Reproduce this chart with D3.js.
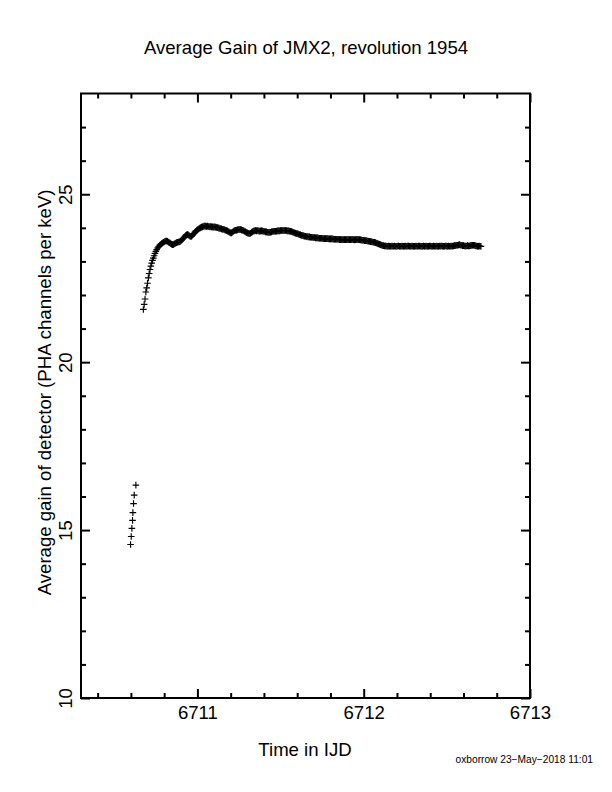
<!DOCTYPE html>
<html>
<head>
<meta charset="utf-8">
<script src="https://cdn.jsdelivr.net/npm/d3@7"></script>
<style>
  body { margin:0; background:#fff; }
  svg { font-family: "Liberation Sans", Arial, Helvetica, sans-serif; }
</style>
</head>
<body>
<div id="chart"></div>
<script>
// early points, before the gain settles
var startTime = [6710.598,6710.602,6710.606,6710.610,6710.612,6710.616,6710.620,6710.630];
var startGain = [14.57,14.81,15.05,15.29,15.52,15.79,16.04,16.34];

// main run (IJD, gain in PHA channels per keV)
var gainTime = [
 6710.675,6710.68,6710.685,6710.69,6710.695,6710.70,6710.705,6710.71,6710.715,6710.72,
 6710.725,6710.73,6710.735,6710.74,6710.745,6710.75,6710.755,6710.76,6710.765,6710.77,
 6710.775,6710.78,6710.785,6710.79,6710.795,6710.80,6710.805,6710.81,6710.815,6710.82,
 6710.825,6710.83,6710.835,6710.84,6710.845,6710.85,6710.855,6710.86,6710.865,6710.87,
 6710.875,6710.88,6710.885,6710.89,6710.895,6710.90,6710.905,6710.91,6710.915,6710.92,
 6710.925,6710.93,6710.935,6710.94,6710.945,6710.95,6710.955,6710.96,6710.965,6710.97,
 6710.975,6710.98,6710.985,6710.99,6710.995,6711.00,6711.005,6711.01,6711.015,6711.02,
 6711.025,6711.03,6711.035,6711.04,6711.045,6711.05,6711.055,6711.06,6711.065,6711.07,
 6711.075,6711.08,6711.085,6711.09,6711.095,6711.10,6711.105,6711.11,6711.115,6711.12,
 6711.125,6711.13,6711.135,6711.14,6711.145,6711.15,6711.155,6711.16,6711.165,6711.17,
 6711.175,6711.18,6711.185,6711.19,6711.195,6711.20,6711.205,6711.21,6711.215,6711.22,
 6711.225,6711.23,6711.235,6711.24,6711.245,6711.25,6711.255,6711.26,6711.265,6711.27,
 6711.275,6711.28,6711.285,6711.29,6711.295,6711.30,6711.305,6711.31,6711.315,6711.32,
 6711.325,6711.33,6711.335,6711.34,6711.345,6711.35,6711.355,6711.36,6711.365,6711.37,
 6711.375,6711.38,6711.385,6711.39,6711.395,6711.40,6711.405,6711.41,6711.415,6711.42,
 6711.425,6711.43,6711.435,6711.44,6711.445,6711.45,6711.455,6711.46,6711.465,6711.47,
 6711.475,6711.48,6711.485,6711.49,6711.495,6711.50,6711.505,6711.51,6711.515,6711.52,
 6711.525,6711.53,6711.535,6711.54,6711.545,6711.55,6711.555,6711.56,6711.565,6711.57,
 6711.575,6711.58,6711.585,6711.59,6711.595,6711.60,6711.605,6711.61,6711.615,6711.62,
 6711.625,6711.63,6711.635,6711.64,6711.645,6711.65,6711.655,6711.66,6711.665,6711.67,
 6711.675,6711.68,6711.685,6711.69,6711.695,6711.70,6711.705,6711.71,6711.715,6711.72,
 6711.725,6711.73,6711.735,6711.74,6711.745,6711.75,6711.755,6711.76,6711.765,6711.77,
 6711.775,6711.78,6711.785,6711.79,6711.795,6711.80,6711.805,6711.81,6711.815,6711.82,
 6711.825,6711.83,6711.835,6711.84,6711.845,6711.85,6711.855,6711.86,6711.865,6711.87,
 6711.875,6711.88,6711.885,6711.89,6711.895,6711.90,6711.905,6711.91,6711.915,6711.92,
 6711.925,6711.93,6711.935,6711.94,6711.945,6711.95,6711.955,6711.96,6711.965,6711.97,
 6711.975,6711.98,6711.985,6711.99,6711.995,6712.00,6712.005,6712.01,6712.015,6712.02,
 6712.025,6712.03,6712.035,6712.04,6712.045,6712.05,6712.055,6712.06,6712.065,6712.07,
 6712.075,6712.08,6712.085,6712.09,6712.095,6712.10,6712.105,6712.11,6712.115,6712.12,
 6712.125,6712.13,6712.135,6712.14,6712.145,6712.15,6712.155,6712.16,6712.165,6712.17,
 6712.175,6712.18,6712.185,6712.19,6712.195,6712.20,6712.205,6712.21,6712.215,6712.22,
 6712.225,6712.23,6712.235,6712.24,6712.245,6712.25,6712.255,6712.26,6712.265,6712.27,
 6712.275,6712.28,6712.285,6712.29,6712.295,6712.30,6712.305,6712.31,6712.315,6712.32,
 6712.325,6712.33,6712.335,6712.34,6712.345,6712.35,6712.355,6712.36,6712.365,6712.37,
 6712.375,6712.38,6712.385,6712.39,6712.395,6712.40,6712.405,6712.41,6712.415,6712.42,
 6712.425,6712.43,6712.435,6712.44,6712.445,6712.45,6712.455,6712.46,6712.465,6712.47,
 6712.475,6712.48,6712.485,6712.49,6712.495,6712.50,6712.505,6712.51,6712.515,6712.52,
 6712.525,6712.53,6712.535,6712.54,6712.545,6712.55,6712.555,6712.56,6712.565,6712.57,
 6712.575,6712.58,6712.585,6712.59,6712.595,6712.60,6712.605,6712.61,6712.615,6712.62,
 6712.625,6712.63,6712.635,6712.64,6712.645,6712.65,6712.655,6712.66,6712.665,6712.67,
 6712.675,6712.68,6712.685,6712.69,6712.695,6712.70,6712.705
];
var gainValue = [
 21.57,21.72,21.88,22.09,22.21,22.35,22.51,22.64,22.76,22.86,
 22.95,23.03,23.10,23.17,23.24,23.30,23.35,23.40,23.43,23.46,
 23.49,23.51,23.53,23.55,23.57,23.58,23.60,23.61,23.61,23.60,
 23.58,23.56,23.55,23.53,23.51,23.50,23.50,23.52,23.53,23.55,
 23.56,23.57,23.58,23.58,23.59,23.61,23.63,23.66,23.69,23.72,
 23.75,23.78,23.79,23.80,23.79,23.77,23.75,23.74,23.75,23.78,
 23.81,23.84,23.87,23.90,23.92,23.94,23.96,23.98,23.99,24.01,
 24.02,24.03,24.04,24.05,24.05,24.05,24.04,24.05,24.04,24.04,
 24.03,24.04,24.03,24.03,24.02,24.03,24.02,24.02,24.01,24.01,
 24.00,23.99,23.98,23.98,23.97,23.96,23.96,23.95,23.94,23.93,
 23.92,23.91,23.89,23.88,23.86,23.85,23.85,23.87,23.89,23.91,
 23.92,23.93,23.93,23.94,23.95,23.95,23.95,23.95,23.94,23.93,
 23.92,23.91,23.89,23.88,23.86,23.85,23.84,23.83,23.83,23.84,
 23.86,23.88,23.90,23.91,23.91,23.92,23.91,23.92,23.91,23.91,
 23.90,23.91,23.91,23.91,23.90,23.90,23.89,23.88,23.88,23.87,
 23.87,23.86,23.87,23.87,23.88,23.89,23.89,23.90,23.90,23.90,
 23.90,23.91,23.91,23.91,23.91,23.92,23.92,23.92,23.92,23.92,
 23.92,23.92,23.92,23.91,23.91,23.91,23.90,23.90,23.89,23.88,
 23.87,23.86,23.85,23.84,23.83,23.83,23.82,23.81,23.80,23.79,
 23.78,23.77,23.77,23.76,23.75,23.75,23.74,23.74,23.73,23.73,
 23.73,23.72,23.72,23.72,23.71,23.71,23.71,23.70,23.70,23.70,
 23.70,23.69,23.69,23.69,23.69,23.69,23.68,23.68,23.68,23.68,
 23.68,23.68,23.68,23.67,23.67,23.67,23.67,23.67,23.67,23.66,
 23.66,23.66,23.66,23.66,23.66,23.66,23.65,23.65,23.65,23.65,
 23.65,23.65,23.65,23.65,23.65,23.65,23.65,23.65,23.65,23.65,
 23.65,23.66,23.65,23.65,23.64,23.65,23.65,23.66,23.65,23.65,
 23.65,23.64,23.64,23.63,23.63,23.63,23.62,23.62,23.62,23.61,
 23.61,23.60,23.60,23.59,23.59,23.58,23.58,23.57,23.57,23.56,
 23.55,23.54,23.53,23.52,23.51,23.50,23.49,23.48,23.47,23.47,
 23.46,23.46,23.46,23.45,23.45,23.46,23.45,23.45,23.45,23.46,
 23.45,23.45,23.46,23.45,23.45,23.45,23.46,23.46,23.45,23.45,
 23.45,23.46,23.45,23.45,23.45,23.46,23.45,23.45,23.46,23.46,
 23.45,23.45,23.45,23.46,23.45,23.45,23.45,23.45,23.46,23.45,
 23.45,23.46,23.46,23.45,23.45,23.45,23.45,23.46,23.45,23.45,
 23.46,23.45,23.45,23.45,23.46,23.46,23.45,23.45,23.45,23.46,
 23.45,23.45,23.46,23.45,23.45,23.45,23.46,23.45,23.46,23.46,
 23.45,23.45,23.45,23.46,23.46,23.45,23.45,23.46,23.45,23.45,
 23.46,23.45,23.46,23.46,23.47,23.47,23.48,23.48,23.48,23.49,
 23.50,23.49,23.48,23.48,23.47,23.47,23.46,23.46,23.46,23.46,
 23.47,23.46,23.46,23.47,23.47,23.48,23.48,23.48,23.48,23.47,
 23.46,23.46,23.45,23.45,23.46,23.45,23.45
];

var xMajor = [6711, 6712, 6713];
var xMinor = [6710.4,6710.6,6710.8,6711.2,6711.4,6711.6,6711.8,6712.2,6712.4,6712.6,6712.8];
var yMajor = [10, 15, 20, 25];
var yMinor = [11,12,13,14,16,17,18,19,21,22,23,24,26,27];

var width = 612, height = 792;
var margin = {top:93.5, right:82, bottom:94, left:81};
var fontSize = "18.6px";

var svg = d3.select("#chart").append("svg")
    .attr("width", width)
    .attr("height", height);

var x = d3.scaleLinear()
    .domain([6710.3, 6713])
    .range([margin.left, width - margin.right]);

var y = d3.scaleLinear()
    .domain([10, 28])
    .range([height - margin.bottom, margin.top]);

var x0 = x.range()[0], x1 = x.range()[1];
var y0 = y.range()[0], y1 = y.range()[1];

function tidy(g){
    g.select(".domain").remove();
    g.selectAll(".tick line").attr("stroke","#000").attr("stroke-width",2);
}

// bottom
svg.append("g").attr("transform","translate(0,"+y0+")")
    .call(d3.axisBottom(x).tickValues(xMinor).tickSizeInner(-5).tickSizeOuter(0).tickFormat(""))
    .call(tidy);
svg.append("g").attr("transform","translate(0,"+y0+")")
    .call(d3.axisBottom(x).tickValues(xMajor).tickSizeInner(-9).tickSizeOuter(0).tickPadding(8).tickFormat(d3.format("d")))
    .call(tidy)
    .selectAll("text")
    .style("font-size",fontSize)
    .attr("fill","#000");

// top
svg.append("g").attr("transform","translate(0,"+y1+")")
    .call(d3.axisTop(x).tickValues(xMinor).tickSizeInner(-5).tickSizeOuter(0).tickFormat(""))
    .call(tidy);
svg.append("g").attr("transform","translate(0,"+y1+")")
    .call(d3.axisTop(x).tickValues(xMajor).tickSizeInner(-9).tickSizeOuter(0).tickFormat(""))
    .call(tidy);

// left
svg.append("g").attr("transform","translate("+x0+",0)")
    .call(d3.axisLeft(y).tickValues(yMinor).tickSizeInner(-5).tickSizeOuter(0).tickFormat(""))
    .call(tidy);
svg.append("g").attr("transform","translate("+x0+",0)")
    .call(d3.axisLeft(y).tickValues(yMajor).tickSizeInner(-9).tickSizeOuter(0).tickFormat(d3.format("d")))
    .call(tidy)
    .selectAll("text")
    .attr("transform","rotate(-90)")
    .attr("x",0)
    .attr("y",-9)
    .attr("dy",0)
    .attr("text-anchor","middle")
    .style("font-size",fontSize)
    .attr("fill","#000");

// right
svg.append("g").attr("transform","translate("+x1+",0)")
    .call(d3.axisRight(y).tickValues(yMinor).tickSizeInner(-5).tickSizeOuter(0).tickFormat(""))
    .call(tidy);
svg.append("g").attr("transform","translate("+x1+",0)")
    .call(d3.axisRight(y).tickValues(yMajor).tickSizeInner(-9).tickSizeOuter(0).tickFormat(""))
    .call(tidy);

// frame
svg.append("rect")
    .attr("x",x0).attr("y",y1)
    .attr("width",x1-x0).attr("height",y0-y1)
    .attr("fill","none").attr("stroke","#000").attr("stroke-width",2);

// points as "+" markers
var pts = startTime.map(function(t,i){ return [t,startGain[i]]; })
    .concat(gainTime.map(function(t,i){ return [t,gainValue[i]]; }));

var s = 3.3;
svg.append("g").selectAll("path").data(pts).enter().append("path")
    .attr("d",function(d){
        var px = x(d[0]), py = y(d[1]);
        return "M"+(px-s)+","+py+"H"+(px+s)+"M"+px+","+(py-s)+"V"+(py+s);
    })
    .attr("stroke","#000")
    .attr("stroke-width",1.15)
    .attr("fill","none");

// texts
svg.append("text")
    .attr("x",306).attr("y",54)
    .attr("text-anchor","middle")
    .style("font-size",fontSize)
    .text("Average Gain of JMX2, revolution 1954");

svg.append("text")
    .attr("x",305).attr("y",756)
    .attr("text-anchor","middle")
    .style("font-size",fontSize)
    .text("Time in IJD");

svg.append("text")
    .attr("transform","translate(51,"+y(19.1)+") rotate(-90)")
    .attr("text-anchor","middle")
    .style("font-size",fontSize)
    .text("Average gain of detector (PHA channels per keV)");

svg.append("text")
    .attr("x",593).attr("y",763)
    .attr("text-anchor","end")
    .style("font-size","10.2px")
    .text("oxborrow 23\u2212May\u22122018 11:01");
</script>
</body>
</html>
